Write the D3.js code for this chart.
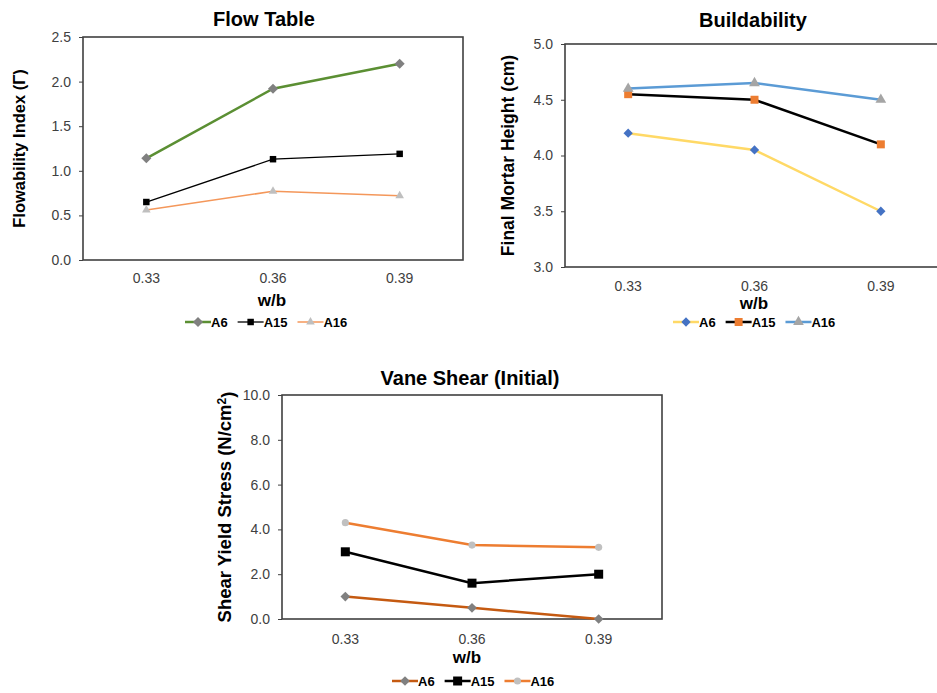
<!DOCTYPE html>
<html>
<head>
<meta charset="utf-8">
<script src="https://cdn.jsdelivr.net/npm/d3@7"></script>
<style>
  body { margin: 0; background: #fff; }
  text { font-family: "Liberation Sans", Arial, sans-serif; }
</style>
</head>
<body>
<div id="chart"></div>
<script>
// Data
const wb = ["0.33", "0.36", "0.39"];
const seriesNames = ["A6", "A15", "A16"];

const flowA6 = [1.14, 1.92, 2.2];
const flowA15 = [0.65, 1.13, 1.19];
const flowA16 = [0.56, 0.77, 0.72];
const flowTicks = [0, 0.5, 1.0, 1.5, 2.0, 2.5];

const buildA6 = [4.2, 4.05, 3.5];
const buildA15 = [4.55, 4.5, 4.1];
const buildA16 = [4.6, 4.65, 4.5];
const buildTicks = [3.0, 3.5, 4.0, 4.5, 5.0];

const vaneA6 = [1.0, 0.5, 0.0];
const vaneA15 = [3.0, 1.6, 2.0];
const vaneA16 = [4.3, 3.3, 3.2];
const vaneTicks = [0, 2, 4, 6, 8, 10];

const svg = d3.select("#chart")
  .append("svg")
  .attr("width", 937)
  .attr("height", 693);

function drawChart(cfg) {
  const x = d3.scaleBand().domain(wb).range([cfg.left, cfg.right]);
  const y = d3.scaleLinear().domain(cfg.domain).range([cfg.bottom, cfg.top]);
  const g = svg.append("g");

  // plot frame
  g.append("rect")
    .attr("x", cfg.left).attr("y", cfg.top)
    .attr("width", cfg.right - cfg.left).attr("height", cfg.bottom - cfg.top)
    .attr("fill", "none").attr("stroke", "#404040").attr("stroke-width", 1.6);

  // y axis
  const yAxis = g.append("g")
    .attr("transform", "translate(" + cfg.left + ",0)")
    .call(d3.axisLeft(y).tickValues(cfg.ticks).tickFormat(d3.format(".1f")).tickSize(4).tickPadding(8));
  yAxis.select(".domain").remove();
  yAxis.selectAll("line").attr("stroke", "#404040");
  yAxis.selectAll("text").style("font-size", "14px").attr("fill", "#404040")
    .style("font-family", "Liberation Sans, Arial, sans-serif");

  // x axis
  const xAxis = g.append("g")
    .attr("transform", "translate(0," + cfg.bottom + ")")
    .call(d3.axisBottom(x).tickSize(0).tickPadding(cfg.xPad));
  xAxis.select(".domain").remove();
  xAxis.selectAll("text").style("font-size", "14px").attr("fill", "#404040")
    .style("font-family", "Liberation Sans, Arial, sans-serif");

  // title
  g.append("text")
    .attr("x", cfg.titleX).attr("y", cfg.titleY)
    .attr("text-anchor", "middle")
    .style("font-size", "20px").style("font-weight", "bold")
    .text(cfg.title);

  // x label
  g.append("text")
    .attr("x", cfg.xLabelX).attr("y", cfg.xLabelY)
    .attr("text-anchor", "middle")
    .style("font-size", "17px").style("font-weight", "bold")
    .text("w/b");

  // y label
  const yl = g.append("text")
    .attr("transform", "translate(" + cfg.yLabelX + "," + (cfg.top + cfg.bottom) / 2 + ") rotate(-90)")
    .attr("text-anchor", "middle")
    .attr("dy", "0.35em")
    .style("font-size", cfg.yLabelSize + "px").style("font-weight", "bold");
  cfg.yLabel(yl);

  // lines + markers
  const line = d3.line()
    .x(function(d, i) { return x(wb[i]) + x.bandwidth() / 2; })
    .y(function(d) { return y(d); });

  cfg.series.forEach(function(s) {
    g.append("path")
      .datum(s.values)
      .attr("d", line)
      .attr("fill", "none")
      .attr("stroke", s.line)
      .attr("stroke-width", s.width);

    g.selectAll(null)
      .data(s.values)
      .enter().append("path")
      .attr("transform", function(d, i) {
        return "translate(" + (x(wb[i]) + x.bandwidth() / 2) + "," + y(d) + ")";
      })
      .attr("d", d3.symbol().type(s.symbol).size(s.size))
      .attr("fill", s.marker);
  });

  // legend
  const lg = g.append("g").attr("transform", "translate(" + cfg.legendX + "," + cfg.legendY + ")");
  let off = 0;
  cfg.series.forEach(function(s, i) {
    lg.append("line")
      .attr("x1", off).attr("x2", off + 26)
      .attr("stroke", s.line).attr("stroke-width", s.width);
    lg.append("path")
      .attr("transform", "translate(" + (off + 13) + ",0)")
      .attr("d", d3.symbol().type(s.symbol).size(s.size))
      .attr("fill", s.marker);
    const t = lg.append("text")
      .attr("x", off + 26).attr("y", 0).attr("dy", "0.35em")
      .style("font-size", "13px").style("font-weight", "bold")
      .text(seriesNames[i]);
    off += 26 + t.node().getComputedTextLength() + 10;
  });
}

drawChart({
  left: 83, right: 463, top: 37, bottom: 260, xPad: 13,
  domain: [0, 2.5], ticks: flowTicks,
  title: "Flow Table", titleX: 264, titleY: 26,
  xLabelX: 272, xLabelY: 306,
  yLabelX: 19, yLabelSize: 16.5,
  yLabel: function(t) { t.text("Flowability  Index (Γ)"); },
  legendX: 185, legendY: 322,
  series: [
    { values: flowA6, line: "#5B8F33", width: 2.5, marker: "#808080", symbol: d3.symbolDiamond2, size: 65 },
    { values: flowA15, line: "#000000", width: 1.3, marker: "#000000", symbol: d3.symbolSquare, size: 42 },
    { values: flowA16, line: "#F4975A", width: 1.5, marker: "#BFBFBF", symbol: d3.symbolTriangle, size: 32 }
  ]
});

drawChart({
  left: 565, right: 944, top: 44, bottom: 267, xPad: 14,
  domain: [3, 5], ticks: buildTicks,
  title: "Buildability", titleX: 753, titleY: 27,
  xLabelX: 754, xLabelY: 309,
  yLabelX: 508, yLabelSize: 17.5,
  yLabel: function(t) { t.text("Final Mortar Height (cm)"); },
  legendX: 673, legendY: 322,
  series: [
    { values: buildA6, line: "#FFD966", width: 2.5, marker: "#4472C4", symbol: d3.symbolDiamond2, size: 55 },
    { values: buildA15, line: "#000000", width: 2.5, marker: "#ED7D31", symbol: d3.symbolSquare, size: 64 },
    { values: buildA16, line: "#5B9BD5", width: 2.5, marker: "#A5A5A5", symbol: d3.symbolTriangle, size: 50 }
  ]
});

drawChart({
  left: 282, right: 662, top: 395, bottom: 619, xPad: 15,
  domain: [0, 10], ticks: vaneTicks,
  title: "Vane Shear (Initial)", titleX: 470, titleY: 385,
  xLabelX: 467, xLabelY: 663,
  yLabelX: 225, yLabelSize: 18.5,
  yLabel: function(t) {
    t.text("Shear Yield Stress (N/cm");
    t.append("tspan").attr("dy", "-0.45em").style("font-size", "12px").text("2");
    t.append("tspan").attr("dy", "0.45em").text(")");
  },
  legendX: 392, legendY: 681,
  series: [
    { values: vaneA6, line: "#C55A11", width: 2.5, marker: "#808080", symbol: d3.symbolDiamond2, size: 60 },
    { values: vaneA15, line: "#000000", width: 2.5, marker: "#000000", symbol: d3.symbolSquare, size: 81 },
    { values: vaneA16, line: "#ED7D31", width: 2.5, marker: "#C0C0C0", symbol: d3.symbolCircle, size: 40 }
  ]
});
</script>
</body>
</html>
